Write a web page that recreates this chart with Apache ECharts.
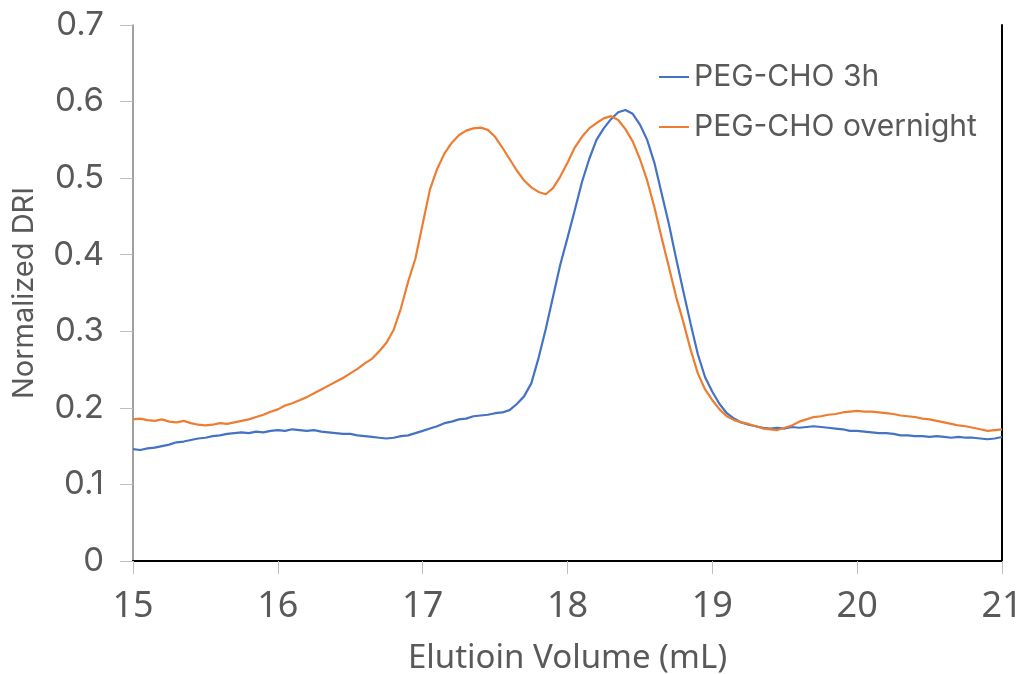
<!DOCTYPE html>
<html><head><meta charset="utf-8">
<script src="https://cdn.jsdelivr.net/npm/echarts@6/dist/echarts.min.js"></script>
<style>html,body{margin:0;padding:0;background:#fff}#c{width:1021px;height:674px}</style>
</head><body><div id="c"></div>
<script>
const volumes = [15.00,15.05,15.10,15.15,15.20,15.25,15.30,15.35,15.40,15.45,15.50,15.55,15.60,15.65,15.70,15.75,15.80,15.85,15.90,15.95,
16.00,16.05,16.10,16.15,16.20,16.25,16.30,16.35,16.40,16.45,16.50,16.55,16.60,16.65,16.70,16.75,16.80,16.85,16.90,16.95,
17.00,17.05,17.10,17.15,17.20,17.25,17.30,17.35,17.40,17.45,17.50,17.55,17.60,17.65,17.70,17.75,17.80,17.85,17.90,17.95,
18.00,18.05,18.10,18.15,18.20,18.25,18.30,18.35,18.40,18.45,18.50,18.55,18.60,18.65,18.70,18.75,18.80,18.85,18.90,18.95,
19.00,19.05,19.10,19.15,19.20,19.25,19.30,19.35,19.40,19.45,19.50,19.55,19.60,19.65,19.70,19.75,19.80,19.85,19.90,19.95,
20.00,20.05,20.10,20.15,20.20,20.25,20.30,20.35,20.40,20.45,20.50,20.55,20.60,20.65,20.70,20.75,20.80,20.85,20.90,20.95,21.00];

const peg3h = [0.146,0.145,0.147,0.148,0.150,0.152,0.155,0.156,0.158,0.160,0.161,0.163,0.164,0.166,0.167,0.168,0.167,0.169,0.168,0.170,
0.171,0.170,0.172,0.171,0.170,0.171,0.169,0.168,0.167,0.166,0.166,0.164,0.163,0.162,0.161,0.160,0.161,0.163,0.164,0.167,
0.170,0.173,0.176,0.180,0.182,0.185,0.186,0.189,0.190,0.191,0.193,0.194,0.197,0.205,0.215,0.232,0.265,0.303,0.345,0.387,
0.422,0.458,0.495,0.525,0.550,0.565,0.577,0.586,0.589,0.584,0.570,0.550,0.520,0.480,0.440,0.395,0.352,0.310,0.270,0.240,
0.221,0.205,0.193,0.186,0.181,0.178,0.176,0.174,0.173,0.174,0.173,0.175,0.174,0.175,0.176,0.175,0.174,0.173,0.172,0.170,
0.170,0.169,0.168,0.167,0.167,0.166,0.164,0.164,0.163,0.163,0.162,0.163,0.162,0.161,0.162,0.161,0.161,0.160,0.159,0.160,0.162];

const pegOvernight = [0.185,0.186,0.184,0.183,0.185,0.182,0.181,0.183,0.180,0.178,0.177,0.178,0.180,0.179,0.181,0.183,0.185,0.188,0.191,0.195,
0.198,0.203,0.206,0.210,0.214,0.219,0.224,0.229,0.234,0.239,0.245,0.251,0.258,0.264,0.274,0.285,0.302,0.330,0.365,0.395,
0.440,0.485,0.512,0.532,0.546,0.556,0.562,0.565,0.566,0.563,0.554,0.540,0.525,0.510,0.497,0.488,0.482,0.479,0.487,0.502,
0.520,0.540,0.554,0.565,0.572,0.578,0.581,0.576,0.564,0.548,0.525,0.497,0.462,0.422,0.384,0.345,0.312,0.276,0.245,0.224,
0.210,0.198,0.189,0.184,0.181,0.179,0.176,0.173,0.172,0.171,0.174,0.177,0.182,0.185,0.188,0.189,0.191,0.192,0.194,0.195,
0.196,0.195,0.195,0.194,0.193,0.192,0.190,0.189,0.188,0.186,0.185,0.183,0.181,0.179,0.177,0.176,0.174,0.172,0.170,0.171,0.172];

const seriesNames = ['PEG-CHO 3h','PEG-CHO overnight'];
const xTitle = 'Elutioin Volume (mL)';
const yTitle = 'Normalized DRI';

const pair = (ys) => volumes.map((v,i)=>[v, ys[i]]);
const chart = echarts.init(document.getElementById('c'));
const wideFont = 'Inter, "Noto Sans", sans-serif';
const xFont = '"Noto Sans", "Open Sans", sans-serif';
chart.setOption({
  animation:false,
  backgroundColor:'#fff',
  grid:{left:133,right:19,top:25,bottom:113,outerBoundsMode:'none',containLabel:false},
  legend:{
    orient:'vertical', left:654, top:57, itemGap:20,
    icon:'rect', itemWidth:30, itemHeight:2,
    textStyle:{fontFamily:wideFont, fontSize:30, color:'#595959', padding:[0,0,0,0]},
    data:seriesNames
  },
  xAxis:[{
    type:'value', min:15, max:21, interval:1,
    name:xTitle, nameLocation:'middle', nameGap:81,
    nameTextStyle:{fontFamily:xFont, fontSize:33, color:'#595959'},
    axisLine:{show:true, lineStyle:{color:'#595959', width:1.5}},
    axisTick:{show:true, length:13, lineStyle:{color:'#bfbfbf', width:1}},
    axisLabel:{fontFamily:xFont, fontSize:36, color:'#595959', margin:28},
    splitLine:{show:false}
  },{
    type:'value', min:15, max:21, position:'top',
    axisLine:{show:true, lineStyle:{color:'#000', width:2}},
    axisTick:{show:false}, axisLabel:{show:false}, splitLine:{show:false}
  }],
  yAxis:[{
    type:'value', min:0, max:0.7, interval:0.1,
    name:yTitle, nameLocation:'middle', nameGap:94, nameRotate:90,
    nameTextStyle:{fontFamily:wideFont, fontSize:29, color:'#595959'},
    axisLine:{show:true, lineStyle:{color:'#808080', width:1.5}},
    axisTick:{show:true, length:13, lineStyle:{color:'#bfbfbf', width:1}},
    axisLabel:{fontFamily:wideFont, fontSize:33, color:'#595959', margin:29,
      formatter:(v)=> v===0 ? '0' : v.toFixed(1)},
    splitLine:{show:false}
  },{
    type:'value', min:0, max:0.7, position:'right',
    axisLine:{show:true, lineStyle:{color:'#000', width:2}},
    axisTick:{show:false}, axisLabel:{show:false}, splitLine:{show:false}
  }],
  series:[
    {name:seriesNames[0], type:'line', data:pair(peg3h), showSymbol:false, symbol:'none',
     lineStyle:{color:'#4472C4', width:2.2}, itemStyle:{color:'#4472C4'}},
    {name:seriesNames[1], type:'line', data:pair(pegOvernight), showSymbol:false, symbol:'none',
     lineStyle:{color:'#ED7D31', width:2.2}, itemStyle:{color:'#ED7D31'}}
  ]
});
</script></body></html>
